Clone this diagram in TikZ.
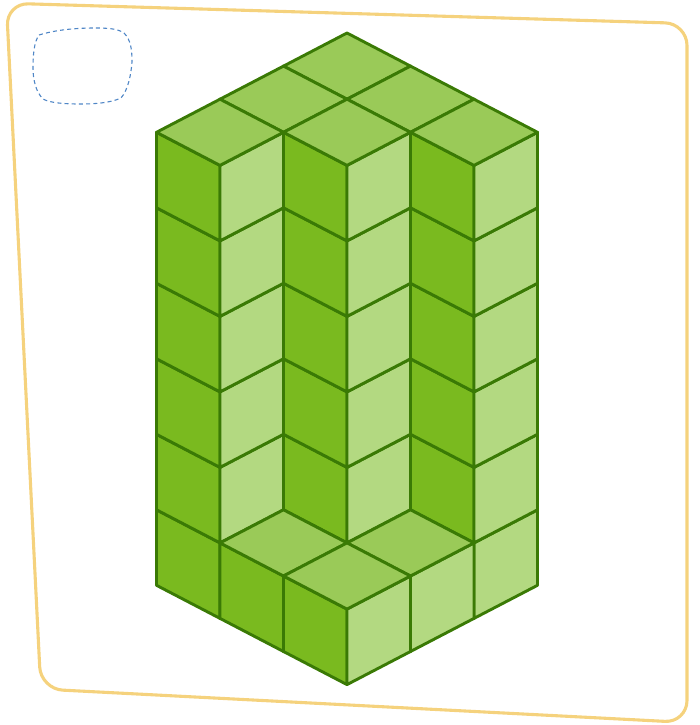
\documentclass[tikz,border=0pt]{standalone}
\usepackage{tikz}
\definecolor{CubeEdge}{HTML}{3A7A05}
\definecolor{CubeLeft}{HTML}{7ABA1F}
\definecolor{CubeRight}{HTML}{B3D981}
\definecolor{CubeTop}{HTML}{9ACA58}
\definecolor{FrameYellow}{HTML}{F5D27D}
\definecolor{BlobBlue}{HTML}{4F86C6}
\tikzset{
  leftface/.style={draw=CubeEdge,fill=CubeLeft,line width=2.9pt,line join=round},
  rightface/.style={draw=CubeEdge,fill=CubeRight,line width=2.9pt,line join=round},
  topface/.style={draw=CubeEdge,fill=CubeTop,line width=2.9pt,line join=round},
  frameline/.style={draw=FrameYellow,line width=3.1pt,rounded corners=22pt},
  blobline/.style={draw=BlobBlue,line width=1.1pt,dash pattern=on 4pt off 3.2pt},
}
\begin{document}
\begin{tikzpicture}[x=1pt,y=-1pt]
  \useasboundingbox (0,0) rectangle (699,725);

  % Outer frame
  \draw[frameline] (6.4,3.2) -- (687,23.5) -- (687,722.5) -- (40.8,689) -- cycle;

  % Dashed blob
  \draw[blobline] (39,35) .. controls (55,30) and (75,28) .. (95,28)
    .. controls (110,28) and (118,29) .. (124,33)
    .. controls (131,40) and (132,50) .. (132,62)
    .. controls (131,75) and (128,90) .. (121,98)
    .. controls (110,103) and (95,104) .. (80,104)
    .. controls (65,104) and (50,103) .. (43,99)
    .. controls (36,92) and (33,80) .. (33,68)
    .. controls (33,55) and (34,42) .. (39,35) -- cycle;

  % Columns, back to front
  \foreach \i/\j/\h in {0/0/6,1/0/6,0/1/6,2/0/6,1/1/6,0/2/6,2/1/1,1/2/1,2/2/1}{
    \foreach \k in {1,...,\h}{
      \pgfmathsetmacro{\ax}{347+63.5*(\i-\j)}
      \pgfmathsetmacro{\ay}{33+33.1*(\i+\j)+(6-\k)*75.5}
      \draw[leftface] (\ax-63.5,\ay+33.1) -- ++(63.5,33.1) -- ++(0,75.5) -- ++(-63.5,-33.1) -- cycle;
      \draw[rightface] (\ax+63.5,\ay+33.1) -- ++(-63.5,33.1) -- ++(0,75.5) -- ++(63.5,-33.1) -- cycle;
    }
    \pgfmathsetmacro{\tx}{347+63.5*(\i-\j)}
    \pgfmathsetmacro{\ty}{33+33.1*(\i+\j)+(6-\h)*75.5}
    \draw[topface] (\tx,\ty) -- ++(63.5,33.1) -- ++(-63.5,33.1) -- ++(-63.5,-33.1) -- cycle;
  }
\end{tikzpicture}
\end{document}
